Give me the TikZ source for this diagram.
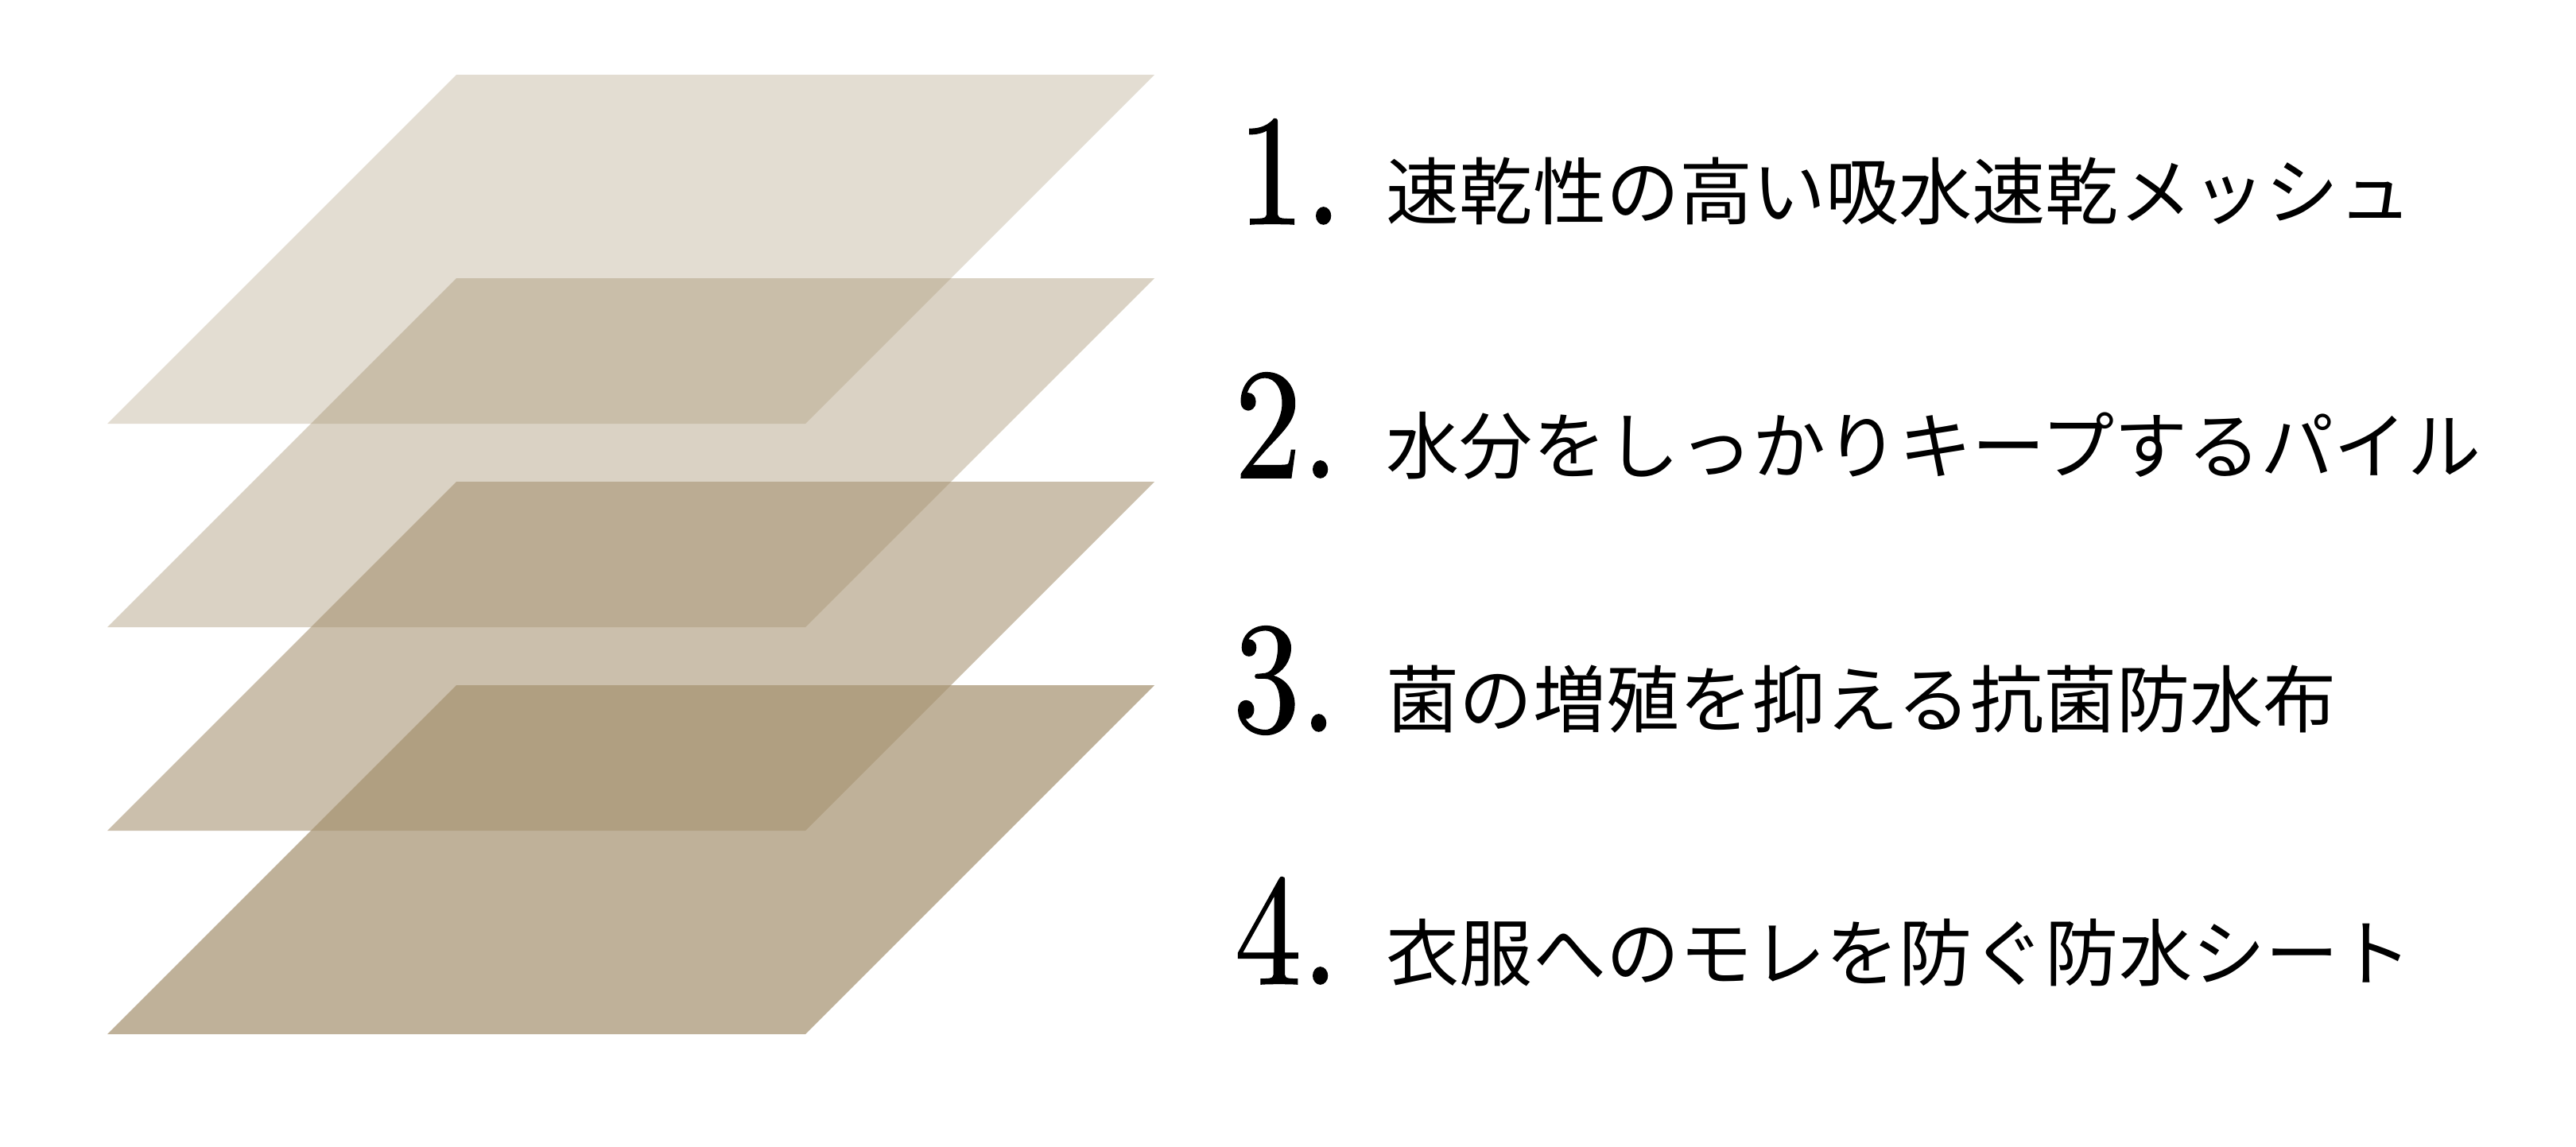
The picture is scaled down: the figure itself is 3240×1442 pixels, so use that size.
\documentclass[tikz,border=0pt]{standalone}
\usepackage{fontspec}
\newfontfamily\jpfont{Noto Sans CJK JP}
\newfontfamily\numfont{lmroman10-regular}[Extension=.otf,FakeBold=0.8]
\definecolor{layerbrown}{RGB}{166,146,112}
\begin{document}
\begin{tikzpicture}[x=0.01cm,y=-0.01cm,
  layerfill/.style={fill=layerbrown,draw=none},
  numlabel/.style={anchor=base west,inner sep=0pt,font=\numfont\fontsize{56.5pt}{60pt}\selectfont},
  jplabel/.style={anchor=base west,inner sep=0pt,font=\jpfont\fontsize{26.2pt}{30pt}\selectfont}]
\useasboundingbox[fill=white] (0,0) rectangle (3240,1442);
% layers
\foreach \i/\op in {0/0.31,1/0.41,2/0.58,3/0.71}{
  \pgfmathsetmacro{\yt}{94+256*\i}
  \pgfmathsetmacro{\yb}{\yt+439}
  \fill[layerfill,fill opacity=\op] (574,\yt) -- (1452,\yt) -- (1013,\yb) -- (135,\yb) -- cycle;
}
% numbers
\node[numlabel] (n1) at (1556,282) {\scalebox{0.85}[1]{1.}};
\node[numlabel] (n2) at (1552,601) {\scalebox{0.85}[1]{2.}};
\node[numlabel] (n3) at (1550,920) {\scalebox{0.85}[1]{3.}};
\node[numlabel] (n4) at (1552,1238) {\scalebox{0.85}[1]{4.}};
% texts
\node[jplabel] (t1) at (1743,275) {速乾性の高い吸水速乾メッシュ};
\node[jplabel] (t2) at (1743,595) {水分をしっかりキープするパイル};
\node[jplabel] (t3) at (1743,914) {菌の増殖を抑える抗菌防水布};
\node[jplabel] (t4) at (1743,1233) {衣服へのモレを防ぐ防水シート};
\end{tikzpicture}
\end{document}
